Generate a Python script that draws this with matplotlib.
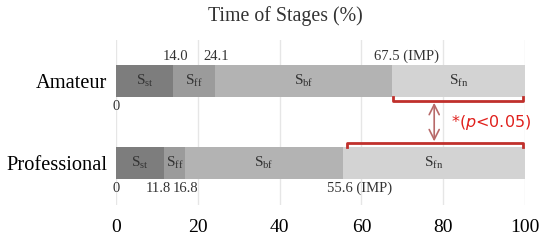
import matplotlib
matplotlib.use("Agg")
import matplotlib.pyplot as plt
import numpy as np

plt.rcParams['font.family'] = 'Liberation Serif'
plt.rcParams['mathtext.fontset'] = 'custom'
plt.rcParams['mathtext.rm'] = 'Liberation Serif'
plt.rcParams['mathtext.it'] = 'DejaVu Sans:italic'

# data
groups = ['Professional', 'Amateur']
stages = ['st', 'ff', 'bf', 'fn']
amateur = [14.0, 10.1, 43.4, 32.5]      # 0 -> 14.0 -> 24.1 -> 67.5 -> 100
professional = [11.8, 5.0, 38.8, 44.4]  # 0 -> 11.8 -> 16.8 -> 55.6 -> 100
colors = ['#7d7d7d', '#9b9b9b', '#b3b3b3', '#d3d3d3']
ticks = [0, 20, 40, 60, 80, 100]

fig = plt.figure(figsize=(5.5, 2.44), dpi=100)
ax = fig.add_axes([116/550, 1-205/244, 409/550, 165/244])

h = 0.39
vals = [professional, amateur]
for yi, row in enumerate(vals):
    left = 0
    for si, w in enumerate(row):
        ax.barh(yi, w, left=left, height=h, color=colors[si], zorder=2)
        ax.text(left + w/2, yi, r'S$_{\mathrm{%s}}$' % stages[si], ha='center', va='center',
                fontsize=11, color='#333333', zorder=3)
        left += w

# boundary labels
cum_a = np.cumsum(amateur)
cum_p = np.cumsum(professional)
lab = dict(fontsize=10.5, color='#333333', ha='center')
ax.text(0, 1 - h/2 - 0.03, '0', va='top', **lab)
ax.text(cum_a[0] + 0.5, 1 + h/2 + 0.02, '%.1f' % cum_a[0], va='bottom', **lab)
ax.text(cum_a[1] + 0.4, 1 + h/2 + 0.02, '%.1f' % cum_a[1], va='bottom', **lab)
ax.text(cum_a[2] + 3.5, 1 + h/2 + 0.02, '%.1f (IMP)' % cum_a[2], va='bottom', **lab)
ax.text(0, -h/2 - 0.03, '0', va='top', **lab)
ax.text(cum_p[0] - 1.5, -h/2 - 0.03, '%.1f' % cum_p[0], va='top', **lab)
ax.text(cum_p[1] + 0.2, -h/2 - 0.03, '%.1f' % cum_p[1], va='top', **lab)
ax.text(cum_p[2] + 4, -h/2 - 0.03, '%.1f (IMP)' % cum_p[2], va='top', **lab)

# significance brackets
red = '#c0302c'
ya = 1 - h/2 - 0.05
ax.plot([cum_a[2] + 0.3, cum_a[2] + 0.3, 99.5, 99.5], [ya + 0.05, ya, ya, ya + 0.05],
        color=red, lw=2, zorder=4, clip_on=False)
yp = h/2 + 0.05
ax.plot([cum_p[2] + 1, cum_p[2] + 1, 99.5, 99.5], [yp - 0.05, yp, yp, yp - 0.05],
        color=red, lw=2, zorder=4, clip_on=False)
ax.annotate('', xy=(77.8, ya - 0.02), xytext=(77.8, yp + 0.02),
            arrowprops=dict(arrowstyle='<->', color='#b86a6a', lw=1.2,
                            mutation_scale=18, shrinkA=0, shrinkB=0))
ax.text(82, 0.5, r'*($\mathit{p}$<0.05)', color='#e0201c', fontsize=11.5,
        family='DejaVu Sans', va='center', ha='left')

ax.set_xlim(0, 100)
ax.set_ylim(-0.51, 1.5)
ax.set_xticks(ticks)
ax.set_xticklabels([str(t) for t in ticks], fontsize=14)
ax.set_yticks([0, 1])
ax.set_yticklabels(groups, fontsize=14.7)
ax.tick_params(length=0, pad=10)
ax.tick_params(axis='y', pad=6)
ax.grid(axis='x', color='#e6e6e6', lw=1, zorder=0)
for s in ax.spines.values():
    s.set_visible(False)
fig.text(285/550, 1 - 16/244, 'Time of Stages (%)', fontsize=14.3, color='#333333',
         ha='center', va='center')

fig.savefig('out.png', dpi=100)
